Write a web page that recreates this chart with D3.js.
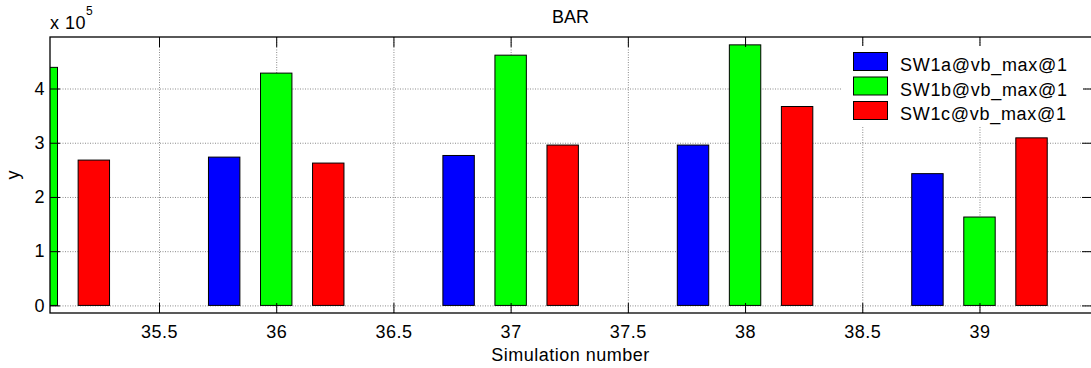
<!DOCTYPE html>
<html>
<head>
<meta charset="utf-8">
<script src="https://cdn.jsdelivr.net/npm/d3@7"></script>
<style>
  html, body { margin: 0; padding: 0; background: #fff; overflow: hidden; }
  svg { display: block; }
  text { font-family: "Liberation Sans", Arial, sans-serif; fill: #000; }
</style>
</head>
<body>
<svg id="chart" width="1091" height="368"></svg>
<script>
// ---- data ----
const categories = [35, 36, 37, 38, 39];
const seriesNames = ["SW1a@vb_max@1", "SW1b@vb_max@1", "SW1c@vb_max@1"];
const seriesColors = ["#0000ff", "#00ff00", "#ff0000"];
const sw1a = [null, 2.735e5, 2.765e5, 2.957e5, 2.43e5];
const sw1b = [4.39e5, 4.284e5, 4.615e5, 4.805e5, 1.63e5];
const sw1c = [2.68e5, 2.625e5, 2.957e5, 3.668e5, 3.09e5];
const xTicks = [35.5, 36, 36.5, 37, 37.5, 38, 38.5, 39];
const yTicks = [0, 1e5, 2e5, 3e5, 4e5];
const yTickLabels = ["0", "1", "2", "3", "4"];
const xDomain = [35.035, 39.48];
const yDomain = [-0.14e5, 4.95e5];

const seriesValues = [sw1a, sw1b, sw1c];
const groupOffsets = [-0.222, 0, 0.222];
const barWidth = 0.134;

// ---- layout ----
const L = 50, R = 1092, T = 37, B = 313;
const svg = d3.select("#chart");

const x = d3.scaleLinear().domain(xDomain).range([L, R]);
const y = d3.scaleLinear().domain(yDomain).range([B, T]);

svg.append("defs").append("clipPath").attr("id", "plotclip")
  .append("rect").attr("x", L).attr("y", T).attr("width", R - L).attr("height", B - T);

const fontSize = "18px";
const ls = "0.5px";

// grid
const gridStyle = g => {
  g.select(".domain").remove();
  g.selectAll(".tick line").attr("stroke", "#8a8a8a").attr("stroke-dasharray", "1,1.5").attr("stroke-width", 1);
  g.selectAll(".tick text").remove();
};
svg.append("g").attr("transform", `translate(0,${B})`)
  .call(d3.axisBottom(x).tickValues(xTicks).tickSize(-(B - T)).tickFormat(""))
  .call(gridStyle);
svg.append("g").attr("transform", `translate(${L},0)`)
  .call(d3.axisLeft(y).tickValues(yTicks).tickSize(-(R - L)).tickFormat(""))
  .call(gridStyle);

// bars
const plot = svg.append("g").attr("clip-path", "url(#plotclip)");
seriesValues.forEach((vals, si) => {
  const data = categories.map((c, i) => ({ c, v: vals[i] })).filter(d => d.v != null);
  plot.selectAll(null).data(data).enter().append("rect")
    .attr("x", d => x(d.c + groupOffsets[si] - barWidth / 2))
    .attr("width", d => x(d.c + barWidth / 2) - x(d.c - barWidth / 2))
    .attr("y", d => y(d.v))
    .attr("height", d => y(0) - y(d.v))
    .attr("fill", seriesColors[si])
    .attr("stroke", "#000")
    .attr("stroke-width", 1);
});

// ticks
const tickStyle = g => {
  g.select(".domain").remove();
  g.selectAll(".tick line").attr("stroke", "#000").attr("stroke-width", 1);
  g.selectAll(".tick text").style("font-size", fontSize).style("letter-spacing", ls)
    .attr("font-family", "Liberation Sans, Arial, sans-serif").attr("fill", "#000");
};
svg.append("g").attr("transform", `translate(0,${B})`)
  .call(d3.axisBottom(x).tickValues(xTicks).tickSize(-10).tickPadding(12).tickFormat(d3.format("")))
  .call(tickStyle);
svg.append("g").attr("transform", `translate(0,${T})`)
  .call(d3.axisTop(x).tickValues(xTicks).tickSize(-10).tickFormat(""))
  .call(tickStyle);
svg.append("g").attr("transform", `translate(${L},0)`)
  .call(d3.axisLeft(y).tickValues(yTicks).tickSize(-10).tickPadding(5).tickFormat((d, i) => yTickLabels[i]))
  .call(tickStyle);
svg.append("g").attr("transform", `translate(${R},0)`)
  .call(d3.axisRight(y).tickValues(yTicks).tickSize(-10).tickFormat(""))
  .call(tickStyle);

// spines
svg.append("rect").attr("x", L).attr("y", T).attr("width", R - L).attr("height", B - T)
  .attr("fill", "none").attr("stroke", "#000").attr("stroke-width", 1.3);

// legend
const lg = svg.append("g");
lg.append("rect").attr("x", 842).attr("y", 46).attr("width", 241).attr("height", 81).attr("fill", "#fff");
seriesNames.forEach((name, i) => {
  const base = 71 + i * 24.5;
  lg.append("rect").attr("x", 853.5).attr("y", base - 18.5).attr("width", 34).attr("height", 18)
    .attr("fill", seriesColors[i]).attr("stroke", "#000").attr("stroke-width", 1);
  lg.append("text").attr("x", 900).attr("y", base).style("font-size", fontSize).style("letter-spacing", "0.7px").text(name);
});

// titles
svg.append("text").attr("x", (L + 1091) / 2).attr("y", 23).attr("text-anchor", "middle")
  .style("font-size", fontSize).text("BAR");
svg.append("text").attr("x", (L + 1091) / 2).attr("y", 361).attr("text-anchor", "middle")
  .style("font-size", fontSize).style("letter-spacing", ls).text("Simulation number");
svg.append("text").attr("transform", `translate(19,${(T + B) / 2}) rotate(-90)`).attr("text-anchor", "middle")
  .style("font-size", fontSize).text("y");
const ex = svg.append("text").attr("x", 50).attr("y", 29).style("font-size", fontSize).style("letter-spacing", ls);
ex.append("tspan").text("x 10");
ex.append("tspan").attr("dy", -14).style("font-size", "12px").text("5");
</script>
</body>
</html>
